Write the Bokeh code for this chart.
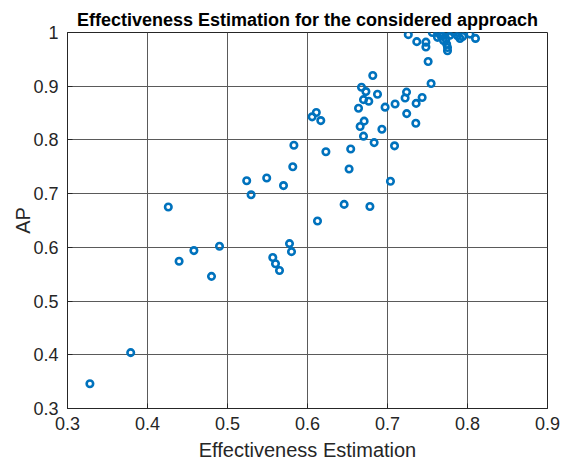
from bokeh.plotting import figure
from bokeh.models import Range1d, FixedTicker, ColumnDataSource
from bokeh.embed import file_html
from bokeh.resources import INLINE

# Data
effectiveness = [0.328, 0.379, 0.426, 0.4395, 0.458, 0.480, 0.490, 0.524, 0.5295, 0.549,
                 0.570, 0.5816, 0.583, 0.5566, 0.560, 0.565, 0.5775, 0.580, 0.6058, 0.611,
                 0.6166, 0.6125, 0.623, 0.6458, 0.652, 0.654, 0.6638, 0.6658, 0.6675, 0.670,
                 0.670, 0.6708, 0.673, 0.6766, 0.678, 0.6816, 0.6833, 0.6875, 0.693, 0.697,
                 0.7037, 0.7088, 0.7095, 0.722, 0.7238, 0.724, 0.7354, 0.7358, 0.7433, 0.7545,
                 0.7508, 0.726, 0.7366, 0.748, 0.748, 0.756, 0.7625, 0.7625, 0.7666, 0.769,
                 0.773, 0.773, 0.774, 0.775, 0.775, 0.783, 0.7875, 0.7906, 0.794, 0.803,
                 0.810, 0.770, 0.766, 0.778]
ap = [0.346, 0.404, 0.675, 0.574, 0.594, 0.546, 0.602, 0.724, 0.698, 0.729,
      0.715, 0.750, 0.790, 0.581, 0.5695, 0.557, 0.607, 0.592, 0.843, 0.851,
      0.836, 0.649, 0.778, 0.680, 0.746, 0.783, 0.859, 0.825, 0.898, 0.875,
      0.807, 0.835, 0.890, 0.872, 0.676, 0.920, 0.795, 0.885, 0.820, 0.861,
      0.723, 0.789, 0.867, 0.878, 0.889, 0.849, 0.831, 0.868, 0.879, 0.905,
      0.946, 0.996, 0.983, 0.982, 0.973, 1.0, 1.0, 0.991, 0.994, 0.994,
      1.0, 0.988, 0.978, 0.972, 0.966, 1.0, 0.994, 0.989, 0.9925, 0.997,
      0.989, 0.985, 0.999, 0.995]

x_ticks = [0.3, 0.4, 0.5, 0.6, 0.7, 0.8, 0.9]
y_ticks = [0.3, 0.4, 0.5, 0.6, 0.7, 0.8, 0.9, 1.0]
x_tick_labels = ["0.3", "0.4", "0.5", "0.6", "0.7", "0.8", "0.9"]
y_tick_labels = ["0.3", "0.4", "0.5", "0.6", "0.7", "0.8", "0.9", "1"]

FONT = "Liberation Sans"
TXT = "#262626"

p = figure(width=569, height=464, output_backend="svg", toolbar_location=None,
           x_range=Range1d(0.3, 0.9), y_range=Range1d(0.3, 1.0),
           title="Effectiveness Estimation for the considered approach",
           min_border_left=67, min_border_right=22, min_border_top=32, min_border_bottom=56)

p.title.text_font = FONT
p.title.text_font_size = "18px"
p.title.text_font_style = "bold"
p.title.text_color = "#000000"
p.title.align = "center"
p.title.vertical_align = "middle"
p.title.standoff = 3

src = ColumnDataSource(dict(x=effectiveness, y=ap))
p.scatter("x", "y", source=src, size=6.5, marker="circle", fill_color=None,
          line_color="#0072BD", line_width=2.6)

p.xaxis.ticker = FixedTicker(ticks=x_ticks)
p.yaxis.ticker = FixedTicker(ticks=y_ticks)
p.xaxis.major_label_overrides = {t: l for t, l in zip(x_ticks, x_tick_labels)}
p.yaxis.major_label_overrides = {t: l for t, l in zip(y_ticks, y_tick_labels)}
p.xaxis.axis_label = "Effectiveness Estimation"
p.yaxis.axis_label = "AP"

for ax in (p.xaxis[0], p.yaxis[0]):
    ax.major_label_text_font = FONT
    ax.major_label_text_font_size = "18px"
    ax.major_label_text_color = TXT
    ax.axis_label_text_font = FONT
    ax.axis_label_text_font_size = "20px"
    ax.axis_label_text_font_style = "normal"
    ax.axis_label_text_color = TXT
    ax.axis_line_color = TXT
    ax.major_tick_in = 5
    ax.major_tick_out = 0
    ax.major_tick_line_color = TXT
    ax.minor_tick_line_color = None

p.xaxis.major_label_standoff = 8
p.xaxis.axis_label_standoff = 6
p.yaxis.major_label_standoff = 9
p.yaxis.axis_label_standoff = -4

p.grid.grid_line_color = "#5a5a5a"
p.grid.grid_line_width = 1
p.outline_line_color = TXT
p.outline_line_width = 1
p.outline_line_alpha = 1
p.background_fill_color = "white"
p.border_fill_color = "white"

open("out.html", "w").write(file_html(p, INLINE))
